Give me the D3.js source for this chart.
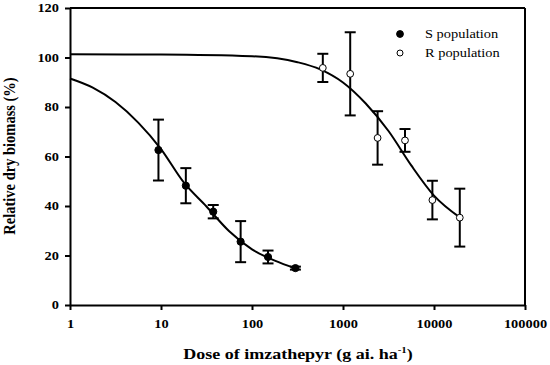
<!DOCTYPE html>
<html>
<head>
<meta charset="utf-8">
<script src="https://cdn.jsdelivr.net/npm/d3@7"></script>
<style>
  html, body { margin: 0; padding: 0; background: #fff; }
  svg { display: block; }
  svg text { font-family: 'Liberation Serif', 'Times New Roman', Times, serif !important; fill: #000; }
</style>
</head>
<body>
<svg id="chart" width="550" height="365"></svg>
<script>
// ---- data ----
const sDose = [9.375, 18.75, 37.5, 75, 150, 300];
const sMean = [62.6, 48.2, 37.7, 25.6, 19.4, 14.9];
const sErr  = [12.3, 7.1, 2.7, 8.3, 2.6, 0.6];

const rDose = [600, 1200, 2400, 4800, 9600, 19200];
const rMean = [95.8, 93.4, 67.5, 66.5, 42.4, 35.3];
const rErr  = [5.7, 16.8, 10.8, 4.6, 7.8, 11.7];

// fitted curves, points
const sCurveDose = [1, 1.78, 3.16, 5.62, 10, 17.8, 31.6, 56.2, 100, 178, 300];
const sCurveVal  = [91.5, 87.8, 82.0, 73.7, 63.0, 49.5, 39.8, 29.8, 22.5, 17.9, 14.8];

const rCurveDose = [1, 10, 100, 316, 562, 1000, 1778, 3162, 5623, 10000, 19200];
const rCurveVal  = [101.3, 101.2, 100.5, 98.1, 95.2, 89.9, 81.4, 70.3, 56.4, 44.2, 35.4];

const xTicks = [1, 10, 100, 1000, 10000, 100000];
const yTicks = [0, 20, 40, 60, 80, 100, 120];
const legendLabels = ["S population", "R population"];

// ---- layout ----
const FONT = "'Liberation Serif', 'Times New Roman', Times, serif";
const svg = d3.select("#chart");
const L = 70, R = 525, T = 8, B = 305;
const SX = 1.2; // horizontal text stretch of the reference

const x = d3.scaleLog().domain([1, 100000]).range([L, R]);
const y = d3.scaleLinear().domain([0, 120]).range([B, T]);

function stretch(sel, sx) {
  sel.each(function () {
    const t = d3.select(this);
    const tx = +t.attr("x") || 0;
    t.attr("transform", `translate(${tx * (1 - sx)},0) scale(${sx},1)`);
  });
}

// frame (top and right)
svg.append("line").attr("x1", L).attr("x2", R).attr("y1", T).attr("y2", T)
  .attr("stroke", "#000").attr("stroke-width", 2);
svg.append("line").attr("x1", R).attr("x2", R).attr("y1", T).attr("y2", B)
  .attr("stroke", "#000").attr("stroke-width", 2);

// axes
const xAxis = svg.append("g").attr("transform", `translate(0,${B})`)
  .call(d3.axisBottom(x).tickValues(xTicks).tickFormat(d3.format("d"))
    .tickSize(5).tickSizeOuter(0).tickPadding(9));
const yAxis = svg.append("g").attr("transform", `translate(${L},0)`)
  .call(d3.axisLeft(y).tickValues(yTicks).tickSize(5).tickSizeOuter(0).tickPadding(6));

[xAxis, yAxis].forEach(a => {
  a.attr("font-family", null);
  a.select(".domain").attr("stroke", "#000").attr("stroke-width", 2);
  a.selectAll(".tick line").attr("stroke", "#000").attr("stroke-width", 2);
  a.selectAll(".tick text").attr("font-size", 12).attr("font-weight", "bold")
    .style("font-family", FONT);
});
stretch(xAxis.selectAll(".tick text"), SX);
stretch(yAxis.selectAll(".tick text"), SX);

// curves
const line = d3.line().x(d => x(d[0])).y(d => y(d[1])).curve(d3.curveMonotoneX);
svg.append("path").datum(sCurveDose.map((d, i) => [d, sCurveVal[i]]))
  .attr("d", line).attr("fill", "none").attr("stroke", "#000").attr("stroke-width", 2);
svg.append("path").datum(rCurveDose.map((d, i) => [d, rCurveVal[i]]))
  .attr("d", line).attr("fill", "none").attr("stroke", "#000").attr("stroke-width", 2);

// error bars + points
function drawSeries(dose, mean, err, filled) {
  const data = dose.map((d, i) => ({ d, m: mean[i], e: err[i] }));
  const g = svg.append("g");
  const eb = g.selectAll("g.eb").data(data).join("g").attr("class", "eb")
    .attr("stroke", "#000").attr("stroke-width", 2);
  eb.append("line").attr("x1", p => x(p.d)).attr("x2", p => x(p.d))
    .attr("y1", p => y(p.m - p.e)).attr("y2", p => y(p.m + p.e));
  eb.append("line").attr("x1", p => x(p.d) - 5.5).attr("x2", p => x(p.d) + 5.5)
    .attr("y1", p => y(p.m + p.e)).attr("y2", p => y(p.m + p.e));
  eb.append("line").attr("x1", p => x(p.d) - 5.5).attr("x2", p => x(p.d) + 5.5)
    .attr("y1", p => y(p.m - p.e)).attr("y2", p => y(p.m - p.e));
  g.selectAll("circle").data(data).join("circle")
    .attr("cx", p => x(p.d)).attr("cy", p => y(p.m)).attr("r", filled ? 3.6 : 3.4)
    .attr("fill", filled ? "#000" : "#fff").attr("stroke", "#000").attr("stroke-width", 1);
}
drawSeries(sDose, sMean, sErr, true);
drawSeries(rDose, rMean, rErr, false);

// legend
const lg = svg.append("g");
legendLabels.forEach((lab, i) => {
  const cy = 34 + i * 19;
  lg.append("circle").attr("cx", 400).attr("cy", cy).attr("r", i === 0 ? 3.4 : 3)
    .attr("fill", i === 0 ? "#000" : "#fff").attr("stroke", "#000").attr("stroke-width", 1);
  lg.append("text").attr("x", 425).attr("y", cy + 4.5).attr("font-size", 12)
    .style("font-family", FONT).text(lab);
});
stretch(lg.selectAll("text"), SX);

// axis titles
const xt = svg.append("text").attr("x", 298).attr("y", 359).attr("text-anchor", "middle")
  .attr("font-size", 15).attr("font-weight", "bold").style("font-family", FONT);
xt.append("tspan").text("Dose of imzathepyr (g ai. ha");
xt.append("tspan").attr("font-size", 9).attr("dy", -6).text("-1");
xt.append("tspan").attr("dy", 6).text(")");
stretch(xt, SX);

svg.append("g").attr("transform", `translate(15,156) scale(${SX},1) rotate(-90)`)
  .append("text").attr("text-anchor", "middle").attr("font-size", 14.5)
  .attr("font-weight", "bold").style("font-family", FONT).text("Relative dry biomass (%)");
</script>
</body>
</html>
